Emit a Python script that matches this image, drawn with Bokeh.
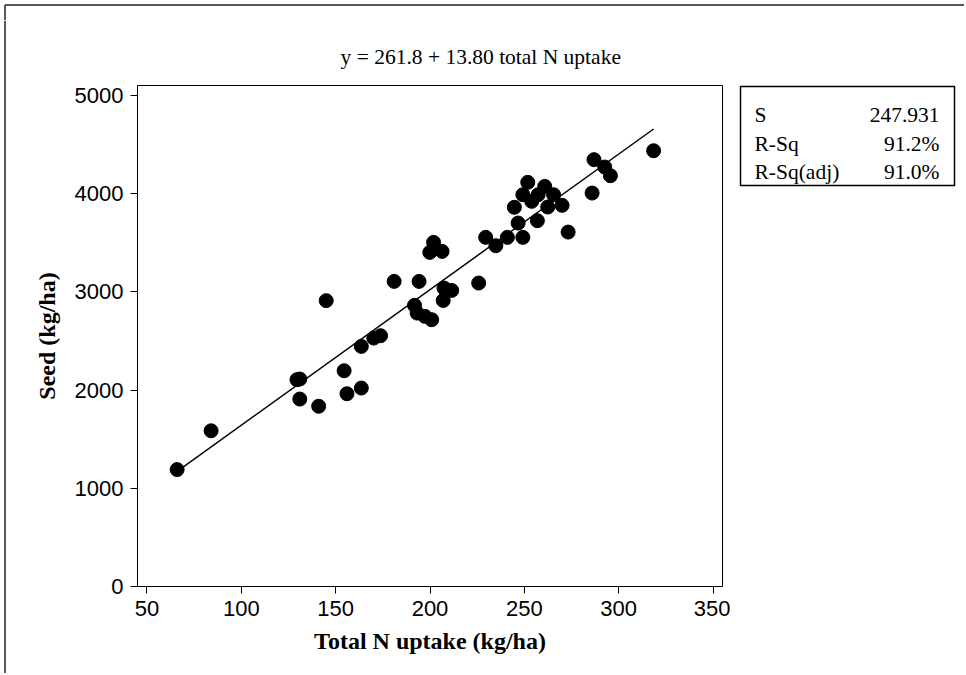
from bokeh.plotting import figure
from bokeh.models import Range1d, FixedTicker, ColumnDataSource
from bokeh.layouts import row, column
from bokeh.core.properties import value
from bokeh.embed import file_html
from bokeh.resources import INLINE

# ---- data ----
n_uptake = [66, 84, 129.5, 131, 131, 141, 145, 154.5, 156, 163.6, 163.6, 170.2,
            173.8, 181, 194.2, 191.8, 193.2, 197.3, 200.9, 199.9, 201.9, 206.4,
            207.4, 211.5, 207, 225.8, 229.5, 234.9, 241, 249.2, 244.7, 246.7,
            249.2, 251.8, 253.9, 257.3, 256.9, 260.8, 262.4, 265.5, 270, 273.2,
            285.9, 286.9, 292.6, 295.6, 318.5]
seed = [1190, 1585, 2105, 2112, 1908, 1835, 2910, 2196, 1962, 2020, 2444, 2529,
        2553, 3106, 3106, 2862, 2783, 2750, 2716, 3401, 3503, 3411,
        3038, 3014, 2912, 3089, 3554, 3469, 3554, 3554, 3860, 3700,
        3988, 4114, 3921, 3988, 3724, 4073, 3863, 3988, 3880, 3608,
        4005, 4345, 4270, 4182, 4436]

INTERCEPT = 261.8
SLOPE = 13.80

x_ticks = [50, 100, 150, 200, 250, 300, 350]
y_ticks = [0, 1000, 2000, 3000, 4000, 5000]

title_text = "y =  261.8 + 13.80 total N uptake"
x_label = "Total N uptake (kg/ha)"
y_label = "Seed (kg/ha)"
stat_names = ["S", "R-Sq", "R-Sq(adj)"]
stat_values = ["247.931", "91.2%", "91.0%"]

BORDER = "#222222"
STRIP = 20          # height of the top border strip
H = 673 - STRIP     # height of the row below it

# ---- main figure ----
p = figure(width=724, height=H, output_backend="svg", toolbar_location=None,
           x_range=Range1d(45, 355), y_range=Range1d(0, 5100),
           min_border_left=131, min_border_right=8,
           min_border_top=85 - STRIP, min_border_bottom=87,
           x_axis_label=x_label, y_axis_label=y_label, frame_align=False)
p.background_fill_color = "white"
p.border_fill_color = "white"
p.xgrid.visible = False
p.ygrid.visible = False
p.outline_line_color = "black"
p.outline_line_width = 1
p.outline_line_alpha = 1

for ax in (p.xaxis[0], p.yaxis[0]):
    ax.axis_line_color = "black"
    ax.major_tick_line_color = "black"
    ax.major_tick_out = 7
    ax.major_tick_in = 0
    ax.minor_tick_line_color = None
    ax.major_label_text_font = "Liberation Sans"
    ax.major_label_text_font_size = "22px"
    ax.major_label_text_color = "black"
    ax.axis_label_text_font = "Liberation Serif"
    ax.axis_label_text_font_style = "bold"
    ax.axis_label_text_font_size = "24px"
    ax.axis_label_text_color = "black"

p.xaxis.ticker = FixedTicker(ticks=x_ticks)
p.yaxis.ticker = FixedTicker(ticks=y_ticks)
p.xaxis.major_label_standoff = 7
p.yaxis.major_label_standoff = 7
p.xaxis.axis_label_standoff = 9
p.yaxis.axis_label_standoff = 12

p.title.text = title_text
p.title.align = "left"
p.title.offset = 203
p.title.standoff = 33
p.title.text_font = "Liberation Serif"
p.title.text_font_size = "21.5px"
p.title.text_font_style = "normal"
p.title.text_color = "black"

# regression line
x0, x1 = min(n_uptake), max(n_uptake)
p.line([x0, x1], [INTERCEPT + SLOPE * x0, INTERCEPT + SLOPE * x1],
       line_color="black", line_width=1.5)

# points
p.scatter(n_uptake, seed, size=14, marker="circle",
          fill_color="black", line_color="black")

# ---- stats panel (right) ----
s = figure(width=234, height=H, output_backend="svg", toolbar_location=None,
           x_range=Range1d(0, 234), y_range=Range1d(H, 0), title=None,
           min_border=0, x_axis_location=None, y_axis_location=None,
           frame_align=False)
s.xgrid.visible = False
s.ygrid.visible = False
s.outline_line_color = None
s.background_fill_color = "white"
s.border_fill_color = "white"
s.quad(left=10, right=224, top=86 - STRIP, bottom=185 - STRIP, fill_color=None,
       line_color="black", line_width=1.5)
row_base = [114 - STRIP, 143 - STRIP, 171 - STRIP]
src = ColumnDataSource(dict(name=stat_names, val=stat_values, yb=row_base,
                            xl=[24] * len(stat_names), xr=[209] * len(stat_names)))
s.text(x="xl", y="yb", text="name", source=src, text_align="left",
       text_baseline="alphabetic", text_font=value("Liberation Serif"),
       text_font_size=value("21.5px"), text_color="black")
s.text(x="xr", y="yb", text="val", source=src, text_align="right",
       text_baseline="alphabetic", text_font=value("Liberation Serif"),
       text_font_size=value("21.5px"), text_color="black")

# ---- outer border strips ----
top = figure(width=964, height=STRIP, output_backend="svg", toolbar_location=None,
             x_range=Range1d(0, 964), y_range=Range1d(STRIP, 0), title=None,
             min_border=0, x_axis_location=None, y_axis_location=None,
             frame_align=False)
top.xgrid.visible = False
top.ygrid.visible = False
top.outline_line_color = None
top.background_fill_color = "white"
top.border_fill_color = "white"
top.line([4.5, 4.5], [STRIP, 4.5], line_color=BORDER, line_width=1.5)
top.line([4.5, 964], [4.5, 4.5], line_color=BORDER, line_width=1.5)

left = figure(width=6, height=H, output_backend="svg", toolbar_location=None,
              x_range=Range1d(0, 6), y_range=Range1d(H, 0), title=None,
              min_border=0, x_axis_location=None, y_axis_location=None,
              frame_align=False)
left.xgrid.visible = False
left.ygrid.visible = False
left.outline_line_color = None
left.line([4.5, 4.5], [0, H], line_color=BORDER, line_width=1.5)

layout = column(top, row(left, p, s))

open("out.html", "w").write(file_html(layout, INLINE))
